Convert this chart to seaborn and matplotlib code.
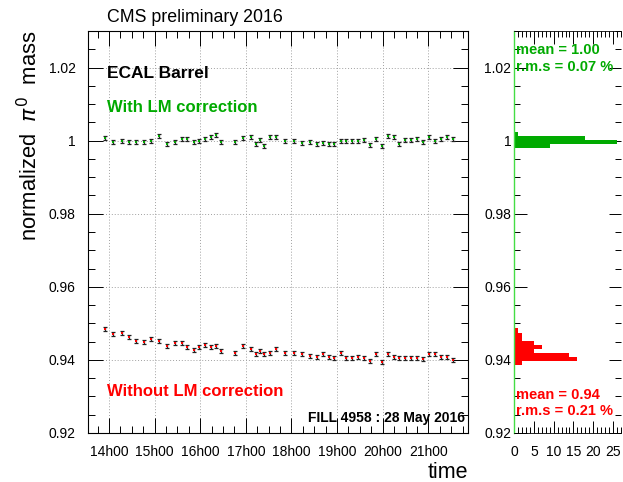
import matplotlib
matplotlib.use("Agg")
import numpy as np
import pandas as pd
import seaborn as sns
import matplotlib.pyplot as plt
from matplotlib.ticker import MultipleLocator, FixedLocator

# ---------------- data ----------------
time_h = [13.91, 14.09, 14.29, 14.44, 14.59, 14.77, 14.92, 15.10, 15.27, 15.45,
          15.60, 15.71, 15.86, 15.97, 16.11, 16.24, 16.35, 16.46, 16.76, 16.94,
          17.11, 17.22, 17.31, 17.40, 17.53, 17.66, 17.86, 18.06, 18.23, 18.41,
          18.56, 18.69, 18.82, 18.93, 19.09, 19.20, 19.33, 19.46, 19.59, 19.72,
          19.86, 19.99, 20.12, 20.25, 20.36, 20.49, 20.62, 20.75, 20.89, 21.02,
          21.15, 21.28, 21.41, 21.54]

with_lm = [1.0007, 0.9997, 0.9999, 0.9995, 0.9996, 0.9997, 0.9999, 1.0012, 0.9991, 0.9997,
           1.0005, 1.0005, 0.9995, 0.9999, 1.0005, 1.0009, 1.0016, 0.9995, 0.9995, 1.0007,
           1.0010, 0.9991, 1.0002, 0.9985, 1.0009, 1.0011, 1.0000, 0.9998, 0.9994, 0.9995,
           0.9991, 0.9994, 0.9991, 0.9990, 1.0000, 0.9998, 0.9998, 1.0000, 1.0001, 0.9988,
           1.0005, 0.9984, 1.0013, 1.0009, 0.9991, 1.0001, 1.0002, 1.0005, 0.9997, 1.0009,
           1.0000, 1.0004, 1.0011, 1.0005]

without_lm = [0.9485, 0.9471, 0.9473, 0.9462, 0.9452, 0.9448, 0.9456, 0.9452, 0.9439, 0.9447,
              0.9445, 0.9434, 0.9427, 0.9434, 0.9441, 0.9434, 0.9439, 0.9425, 0.9419, 0.9437,
              0.9430, 0.9416, 0.9425, 0.9415, 0.9419, 0.9429, 0.9419, 0.9419, 0.9416, 0.9412,
              0.9407, 0.9416, 0.9408, 0.9404, 0.9419, 0.9405, 0.9406, 0.9407, 0.9405, 0.9397,
              0.9416, 0.9395, 0.9417, 0.9408, 0.9404, 0.9406, 0.9404, 0.9405, 0.9403, 0.9416,
              0.9416, 0.9407, 0.9407, 0.9401]

point_err = 0.00055

hour_ticks = [14, 15, 16, 17, 18, 19, 20, 21]
hour_labels = ["14h00", "15h00", "16h00", "17h00", "18h00", "19h00", "20h00", "21h00"]
y_ticks = [0.92, 0.94, 0.96, 0.98, 1.00, 1.02]
y_labels = ["0.92", "0.94", "0.96", "0.98", "1", "1.02"]
count_ticks = [0, 5, 10, 15, 20, 25]

hist_edges = np.linspace(0.92, 1.03, 101)

GREEN = "#00aa00"
RED = "#ff0000"

df = pd.DataFrame({"time": time_h, "with": with_lm, "without": without_lm})

# ---------------- figure ----------------
sns.set_theme(style="ticks")
plt.rcParams["font.family"] = ["Liberation Sans", "DejaVu Sans"]
plt.rcParams["mathtext.fontset"] = "dejavusans"
plt.rcParams["text.color"] = "black"
plt.rcParams["axes.labelcolor"] = "black"
plt.rcParams["xtick.color"] = "black"
plt.rcParams["ytick.color"] = "black"
plt.rcParams["xtick.labelcolor"] = "black"
plt.rcParams["ytick.labelcolor"] = "black"

W, H = 623, 482
fig = plt.figure(figsize=(W / 100, H / 100), dpi=100)
fig.patch.set_facecolor("white")

def fx(px):
    return px / W

def fy(py):
    return 1 - py / H

ax = fig.add_axes([fx(88), fy(433), fx(468) - fx(88), fy(31) - fy(433)])
ax2 = fig.add_axes([fx(514), fy(433), fx(621) - fx(514), fy(31) - fy(433)])

# main panel
for col, color in (("with", GREEN), ("without", RED)):
    ax.errorbar(df["time"], df[col], yerr=point_err, fmt="none",
                ecolor="#222222", elinewidth=0.9, capsize=1.6, capthick=0.9, zorder=3)
    sns.scatterplot(data=df, x="time", y=col, ax=ax, marker="s", s=2.5,
                    color=color, edgecolor=color, linewidth=0, zorder=4, legend=False)

ax.set_xlim(13.54, 21.87)
ax.set_ylim(0.92, 1.03)
ax.xaxis.set_major_locator(FixedLocator(hour_ticks))
ax.set_xticklabels(hour_labels)
ax.xaxis.set_minor_locator(MultipleLocator(0.25))
ax.yaxis.set_major_locator(FixedLocator(y_ticks))
ax.set_yticklabels(y_labels)
ax.yaxis.set_minor_locator(MultipleLocator(0.005))
ax.grid(True, which="major", linestyle=(0, (1, 2)), color="#a0a0a0", linewidth=0.7)
ax.set_xlabel("")
ax.set_ylabel("")
ax.tick_params(which="both", direction="in", top=True, right=True, color="black",
               labelcolor="black", width=0.7)
ax.tick_params(which="major", length=11, labelsize=10, pad=9)
ax.tick_params(which="minor", length=5)
for s in ax.spines.values():
    s.set_color("black")
    s.set_linewidth(0.8)

# histogram panel
sns.histplot(y=without_lm, bins=hist_edges, ax=ax2, color=RED, alpha=1,
             linewidth=0, element="bars")
sns.histplot(y=with_lm, bins=hist_edges, ax=ax2, color=GREEN, alpha=1,
             linewidth=0, element="bars")
ax2.set_ylim(0.92, 1.03)
ax2.set_xlim(0, 27)
ax2.yaxis.set_major_locator(FixedLocator(y_ticks))
ax2.set_yticklabels(y_labels)
ax2.yaxis.set_minor_locator(MultipleLocator(0.005))
ax2.xaxis.set_major_locator(FixedLocator(count_ticks))
ax2.xaxis.set_minor_locator(MultipleLocator(1))
ax2.set_xlabel("")
ax2.set_ylabel("")
ax2.tick_params(which="both", direction="in", top=True, right=True, color="black",
                labelcolor="black", width=0.7)
ax2.tick_params(which="major", length=9, labelsize=10, pad=2)
ax2.tick_params(axis="x", which="major", pad=9)
ax2.tick_params(which="minor", length=4)
for name, s in ax2.spines.items():
    s.set_color("black")
    s.set_linewidth(0.6)
ax2.spines["left"].set_color("#44dd44")
ax2.spines["left"].set_linewidth(1.0)
ax2.spines["right"].set_visible(False)

# texts
fig.text(fx(195), fy(17), "CMS preliminary 2016", ha="center", va="center", fontsize=12.8,
         color="black")
fig.text(fx(107), fy(73), "ECAL Barrel", ha="left", va="center", fontsize=12.5,
         fontweight="bold", color="black")
fig.text(fx(107), fy(108), "With LM correction", ha="left", va="center", fontsize=12,
         fontweight="bold", color=GREEN)
fig.text(fx(107), fy(391), "Without LM correction", ha="left", va="center", fontsize=12,
         fontweight="bold", color=RED)
fig.text(fx(465), fy(418), "FILL 4958 : 28 May 2016", ha="right", va="center", fontsize=10,
         fontweight="bold", color="black")
fig.text(fx(30), fy(31), "normalized  $\\pi^{0}$  mass", rotation=90, ha="center", va="top",
         fontsize=15.8, color="black")
fig.text(fx(468), fy(472), "time", ha="right", va="center", fontsize=15.5, color="black")

fig.text(fx(516), fy(50), "mean = 1.00", ha="left", va="center", fontsize=10.5,
         fontweight="bold", color=GREEN)
fig.text(fx(516), fy(67), "r.m.s = 0.07 %", ha="left", va="center", fontsize=10.5,
         fontweight="bold", color=GREEN)
fig.text(fx(516), fy(395), "mean = 0.94", ha="left", va="center", fontsize=10.5,
         fontweight="bold", color=RED)
fig.text(fx(516), fy(411), "r.m.s = 0.21 %", ha="left", va="center", fontsize=10.5,
         fontweight="bold", color=RED)

fig.savefig("out.png", dpi=100, facecolor="white")
